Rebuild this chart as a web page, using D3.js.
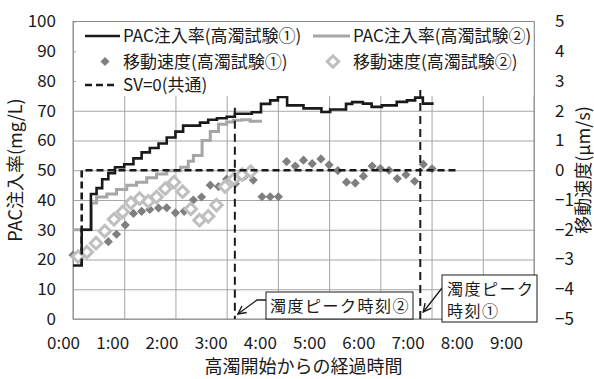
<!DOCTYPE html>
<html>
<head>
<meta charset="utf-8">
<title>PAC注入率と移動速度</title>
<script src="https://cdn.jsdelivr.net/npm/d3@7"></script>
<style>
	body { margin: 0; background: #fff; }
	svg text { font-family: "Noto Sans CJK JP", sans-serif; fill: #1a1a1a; }
</style>
</head>
<body>
<div id="chart"></div>
<script>
// 軸ラベル
var timeLabels = ["0:00", "1:00", "2:00", "3:00", "4:00", "5:00", "6:00", "7:00", "8:00", "9:00"];
var pacTicks = [0, 10, 20, 30, 40, 50, 60, 70, 80, 90, 100];
var svTicks = [-5, -4, -3, -2, -1, 0, 1, 2, 3, 4, 5];

// PAC注入率 (経過時間[h], mg/L) 階段状
var pac1 = [[0, 18], [0.17, 30], [0.35, 42], [0.46, 44], [0.57, 47], [0.69, 49], [0.82, 51], [1.0, 52],
	[1.18, 54], [1.34, 56], [1.5, 57.5], [1.67, 59], [1.83, 61], [2.0, 63], [2.15, 65], [2.48, 66],
	[2.64, 67], [2.81, 67.5], [3.0, 68], [3.16, 69], [3.49, 69.5], [3.67, 72.3], [3.85, 73.5],
	[4.0, 74.6], [4.18, 71.8], [4.5, 70.8], [4.85, 69.6], [5.02, 70.4], [5.33, 72.3], [5.45, 72.9],
	[5.66, 72.4], [5.83, 71.3], [6.03, 71.8], [6.32, 73], [6.52, 73.5], [6.68, 74.4], [6.83, 72.4],
	[7.04, 72.4]];
var pac2 = [[0, 30], [0.36, 39], [0.46, 41], [0.66, 42], [0.85, 43.5], [1.05, 45], [1.24, 46],
	[1.44, 47.5], [1.63, 48.7], [1.83, 49.8], [2.1, 51], [2.25, 53], [2.35, 55], [2.52, 60],
	[2.68, 63], [2.84, 65.5], [3.0, 66.2], [3.13, 66.8], [3.29, 67], [3.46, 66.5], [3.69, 66.5]];

// 移動速度 (経過時間[h], μm/s)
var sv1 = [[0.0, -2.85], [0.69, -2.4], [0.85, -2.15], [1.02, -1.84], [1.18, -1.45], [1.34, -1.38],
	[1.5, -1.32], [1.67, -1.27], [1.83, -1.26], [2.0, -1.43], [2.17, -1.38], [2.35, -1.0],
	[2.51, -0.9], [2.68, -0.5], [2.84, -0.55], [3.0, -0.3], [3.17, -0.45], [3.35, -0.2],
	[3.52, -0.33], [3.69, -0.89], [3.85, -0.89], [4.01, -0.89], [4.17, 0.29], [4.34, 0.14],
	[4.5, 0.34], [4.67, 0.22], [4.84, 0.38], [5.0, 0.18], [5.17, -0.01], [5.34, -0.4],
	[5.51, -0.43], [5.67, -0.2], [5.84, 0.14], [6.0, 0.06], [6.17, 0.0], [6.33, -0.28],
	[6.5, -0.15], [6.67, -0.37], [6.84, 0.2], [7.01, 0.05]];
var sv2 = [[0.1, -2.9], [0.27, -2.75], [0.45, -2.45], [0.62, -2.05], [0.8, -1.65], [0.97, -1.4],
	[1.13, -1.1], [1.3, -0.95], [1.47, -1.05], [1.63, -0.9], [1.8, -0.62], [1.97, -0.4],
	[2.14, -0.72], [2.3, -1.3], [2.47, -1.68], [2.64, -1.55], [2.8, -1.17], [2.97, -0.55],
	[3.14, -0.3], [3.3, -0.15], [3.47, -0.05]];
// SV=0 (共通)
var svZero = [[0.17, -3.2], [0.17, 0], [7.47, 0]];

// 濁度ピーク時刻 ①, ②
var peakTimes = [6.78, 3.16];
var peakTops = [77, 71];
var peakNames = [["濁度ピーク", "時刻①"], ["濁度ピーク時刻②"]];

var legendNames = ["PAC注入率(高濁試験①)", "PAC注入率(高濁試験②)", "移動速度(高濁試験①)", "移動速度(高濁試験②)", "SV=0(共通)"];

var w = 594, h = 379;
var mLeft = 73, mRight = 534, mTop = 21.5, mBottom = 319;

var svg = d3.select("#chart").append("svg")
	.attr("width", w)
	.attr("height", h);

var x = d3.scaleLinear().domain([0, 9]).range([mLeft, mRight]);
// 時刻ラベルは元図どおり少し詰めて並べる
var xLabel = d3.scaleLinear().domain([0, 9]).range([63, 506]);
var yL = d3.scaleLinear().domain([0, 100]).range([mBottom, mTop]);
var yR = d3.scaleLinear().domain([-5, 5]).range([mBottom, mTop]);

// グリッド
svg.append("g")
	.attr("transform", "translate(0," + mBottom + ")")
	.call(d3.axisBottom(x).tickValues(d3.range(0, 10)).tickSize(-(mBottom - mTop)).tickFormat(""))
	.call(function(g) { g.select(".domain").remove(); })
	.selectAll("line").attr("stroke", "#a6a6a6");
svg.append("g")
	.attr("transform", "translate(" + mLeft + ",0)")
	.call(d3.axisLeft(yL).tickValues(pacTicks).tickSize(-(mRight - mLeft)).tickFormat(""))
	.call(function(g) { g.select(".domain").remove(); })
	.selectAll("line").attr("stroke", "#a6a6a6");
svg.append("rect")
	.attr("x", mLeft).attr("y", mTop)
	.attr("width", mRight - mLeft).attr("height", mBottom - mTop)
	.attr("fill", "none").attr("stroke", "#8c8c8c");

// PAC注入率
var stepLine = d3.line()
	.x(function(d) { return x(d[0]); })
	.y(function(d) { return yL(d[1]); })
	.curve(d3.curveStepAfter);
svg.append("path").datum(pac2)
	.attr("d", stepLine).attr("fill", "none")
	.attr("stroke", "#a6a6a6").attr("stroke-width", 3);
svg.append("path").datum(pac1)
	.attr("d", stepLine).attr("fill", "none")
	.attr("stroke", "#1a1a1a").attr("stroke-width", 2.6);

// 移動速度
var diamondS = d3.symbol(d3.symbolSquare, 42);
var diamondL = d3.symbol(d3.symbolSquare, 66);
svg.append("g").selectAll("path").data(sv1).enter().append("path")
	.attr("d", diamondS)
	.attr("transform", function(d) { return "translate(" + x(d[0]) + "," + yR(d[1]) + ") rotate(45)"; })
	.attr("fill", "#7f7f7f");
svg.append("g").selectAll("path").data(sv2).enter().append("path")
	.attr("d", diamondL)
	.attr("transform", function(d) { return "translate(" + x(d[0]) + "," + yR(d[1]) + ") rotate(45)"; })
	.attr("fill", "#fff").attr("stroke", "#bfbfbf").attr("stroke-width", 3);

// SV=0
svg.append("path").datum(svZero)
	.attr("d", d3.line().x(function(d) { return x(d[0]); }).y(function(d) { return yR(d[1]); }))
	.attr("fill", "none").attr("stroke", "#1a1a1a")
	.attr("stroke-width", 2.6).attr("stroke-dasharray", "7,4");

// 凡例
var lg = svg.append("g");
lg.append("rect").attr("x", 76).attr("y", mTop + 0.5).attr("width", mRight - 76 - 0.5).attr("height", 74).attr("fill", "#fff");
var lgRows = [36, 61.5, 85];
lg.append("line").attr("x1", 85).attr("x2", 120).attr("y1", lgRows[0]).attr("y2", lgRows[0])
	.attr("stroke", "#1a1a1a").attr("stroke-width", 2.6);
lg.append("line").attr("x1", 313).attr("x2", 350).attr("y1", lgRows[0]).attr("y2", lgRows[0])
	.attr("stroke", "#a6a6a6").attr("stroke-width", 3);
lg.append("path").attr("d", diamondS).attr("fill", "#7f7f7f")
	.attr("transform", "translate(105," + lgRows[1] + ") rotate(45)");
lg.append("path").attr("d", diamondL).attr("fill", "#fff").attr("stroke", "#bfbfbf").attr("stroke-width", 3)
	.attr("transform", "translate(333," + lgRows[1] + ") rotate(45)");
lg.append("line").attr("x1", 85).attr("x2", 117).attr("y1", lgRows[2]).attr("y2", lgRows[2])
	.attr("stroke", "#1a1a1a").attr("stroke-width", 2.6).attr("stroke-dasharray", "7,4");
var lgPos = [[123, lgRows[0]], [353, lgRows[0]], [123, lgRows[1]], [353, lgRows[1]], [123, lgRows[2]]];
lg.selectAll("text").data(legendNames).enter().append("text")
	.attr("x", function(d, i) { return lgPos[i][0]; })
	.attr("y", function(d, i) { return lgPos[i][1]; })
	.attr("dy", "0.36em")
	.attr("font-size", 17)
	.text(function(d) { return d; });

// 濁度ピーク時刻
svg.append("g").selectAll("line").data(peakTimes).enter().append("line")
	.attr("x1", function(d) { return x(d); }).attr("x2", function(d) { return x(d); })
	.attr("y1", function(d, i) { return yL(peakTops[i]); }).attr("y2", mBottom)
	.attr("stroke", "#1a1a1a").attr("stroke-width", 2).attr("stroke-dasharray", "8,5");

svg.append("defs").append("marker")
	.attr("id", "arrow").attr("viewBox", "0 0 10 10")
	.attr("refX", 9).attr("refY", 5)
	.attr("markerWidth", 10).attr("markerHeight", 10)
	.attr("markerUnits", "userSpaceOnUse")
	.attr("orient", "auto")
	.append("path").attr("d", "M1,1 L9,5 L1,9")
	.attr("fill", "none").attr("stroke", "#1a1a1a").attr("stroke-width", 1.4);

// 矢印
svg.append("path")
	.attr("d", "M442,288 L" + (x(peakTimes[0]) + 3) + ",312")
	.attr("fill", "none").attr("stroke", "#1a1a1a").attr("stroke-width", 1.3)
	.attr("marker-end", "url(#arrow)");
svg.append("path")
	.attr("d", "M266,300 L257,300 L" + (x(peakTimes[1]) + 3) + ",314")
	.attr("fill", "none").attr("stroke", "#1a1a1a").attr("stroke-width", 1.3)
	.attr("marker-end", "url(#arrow)");

// 注記ボックス
svg.append("rect").attr("x", 442).attr("y", 275).attr("width", 95).attr("height", 47)
	.attr("fill", "#fff").attr("stroke", "#1a1a1a");
svg.append("rect").attr("x", 266).attr("y", 292).attr("width", 147).attr("height", 27)
	.attr("fill", "#fff").attr("stroke", "#1a1a1a");
svg.append("text").attr("x", 447).attr("y", 295).attr("font-size", 16).attr("letter-spacing", 1.5).text(peakNames[0][0]);
svg.append("text").attr("x", 447).attr("y", 317).attr("font-size", 16).attr("letter-spacing", 1.5).text(peakNames[0][1]);
svg.append("text").attr("x", 270).attr("y", 312).attr("font-size", 16).attr("letter-spacing", 1.5).text(peakNames[1][0]);

// 軸
function plain(g) {
	g.select(".domain").remove();
	g.selectAll("text").attr("font-size", 17).attr("fill", "#1a1a1a").attr("font-family", "Noto Sans CJK JP");
}
svg.append("g")
	.attr("transform", "translate(0," + mBottom + ")")
	.call(d3.axisBottom(xLabel).tickValues(d3.range(0, 10)).tickSize(0).tickPadding(18)
		.tickFormat(function(d) { return timeLabels[d]; }))
	.call(plain);
svg.append("g")
	.attr("transform", "translate(" + mLeft + ",0)")
	.call(d3.axisLeft(yL).tickValues(pacTicks).tickSize(0).tickPadding(17))
	.call(plain);
svg.append("g")
	.attr("transform", "translate(" + mRight + ",0)")
	.call(d3.axisRight(yR).tickValues(svTicks).tickSize(0).tickPadding(21))
	.call(plain);

// 軸タイトル
svg.append("text")
	.attr("transform", "translate(22,170) rotate(-90)")
	.attr("text-anchor", "middle").attr("font-size", 18)
	.text("PAC注入率(mg/L)");
svg.append("text")
	.attr("transform", "translate(590,170) rotate(-90)")
	.attr("text-anchor", "middle").attr("font-size", 18)
	.text("移動速度(μm/s)");
svg.append("text")
	.attr("x", (mLeft + mRight) / 2).attr("y", 373)
	.attr("text-anchor", "middle").attr("font-size", 18)
	.text("高濁開始からの経過時間");
</script>
</body>
</html>
